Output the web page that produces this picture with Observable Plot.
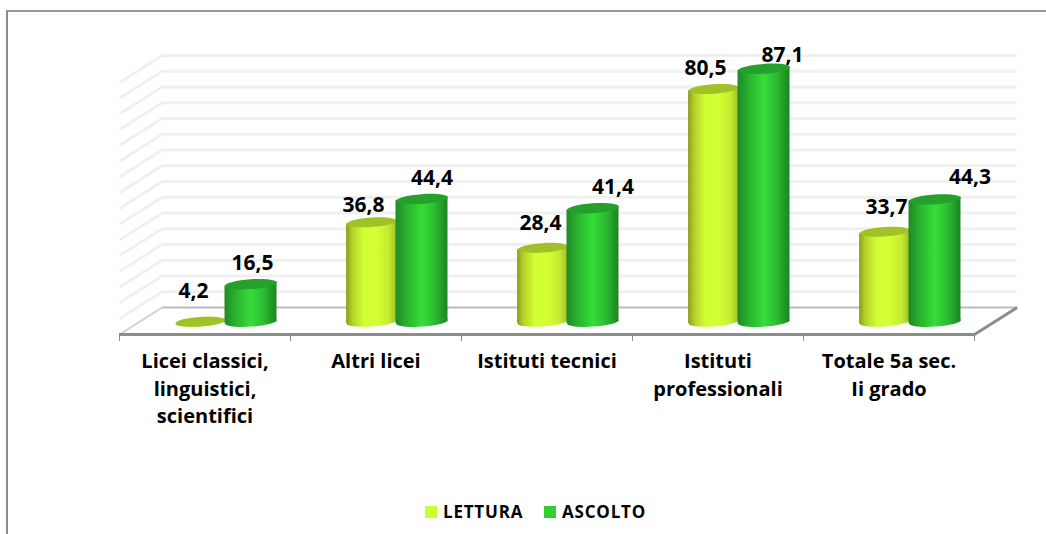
<!DOCTYPE html>
<html><head><meta charset="utf-8">
<script src="https://cdn.jsdelivr.net/npm/d3@7"></script>
<script src="https://cdn.jsdelivr.net/npm/@observablehq/plot@0.6"></script>
<style>
html,body{margin:0;padding:0;background:#fff;overflow:hidden}
#wrap{position:relative;width:1046px;height:534px;font-family:"Open Sans",sans-serif}
#frame{position:absolute;left:6px;top:10px;right:-4px;bottom:-4px;border-left:2px solid #8c8c8c;border-top:2px solid #999}
#chart{position:absolute;left:0;top:0}
.lg{position:absolute;top:503px;font-weight:700;font-size:17px;line-height:18px;letter-spacing:.8px;color:#000}
.sw{position:absolute;top:506px;width:12px;height:12px}
g[aria-label="category"] text{letter-spacing:1.5px}
g[aria-label="value"] text{letter-spacing:1.5px}
</style></head><body>
<div id="wrap"><div id="frame"></div><div id="chart"></div>
<div class="sw" style="left:425px;background:#ccff33"></div><div class="lg" style="left:443px">LETTURA</div>
<div class="sw" style="left:544px;background:#33cc33"></div><div class="lg" style="left:562px">ASCOLTO</div>
</div>
<script>
const categories = ["Licei classici,\nlinguistici,\nscientifici","Altri licei","Istituti tecnici","Istituti\nprofessionali","Totale 5a sec.\nIi grado"];
const lettura = [4.2,36.8,28.4,80.5,33.7];
const ascolto = [16.5,44.4,41.4,87.1,44.3];
const labelsL = ["4,2","36,8","28,4","80,5","33,7"];
const labelsA = ["16,5","44,4","41,4","87,1","44,3"];
const wallGrid = [14.02,19.18,24.35,29.51,34.68,39.84,45.01,50.17,55.34,60.5,65.67,70.83,76.0,81.16,86.33,91.5];
const floorBack = 8.85, depthX = 0.25, barBase = 4.2, tilt = 0.56;

// layout
const nudgeL = [[-7,-30],[-8,-17],[-2,-25],[-8,-21],[2,-24]];
const nudgeA = [[1.5,-21],[10,-21],[20,-21],[18.5,-14],[35,-22]];
const series = [
  {values:lettura,labels:labelsL,nudge:nudgeL,center:0.474,half:0.146,grad:"url(#gY)",top:"#9fc226",r:25},
  {values:ascolto,labels:labelsA,nudge:nudgeA,center:0.769,half:0.152,grad:"url(#gG)",top:"#26a02c",r:26}
];

function ellipseSymbol(){
  return {draw(c,size){
    const rx=Math.sqrt(size/Math.PI), ry=rx*0.19, t=Math.atan(1.7/25), k=0.5523;
    const P=(u,v)=>[u*Math.cos(t)+v*Math.sin(t), -u*Math.sin(t)+v*Math.cos(t)];
    const seg=(a,b,d)=>{const p=P(a[0],a[1]),q=P(b[0],b[1]),r=P(d[0],d[1]);c.bezierCurveTo(p[0],p[1],q[0],q[1],r[0],r[1]);};
    const s=P(rx,0);c.moveTo(s[0],s[1]);
    seg([rx,k*ry],[k*rx,ry],[0,ry]);
    seg([-k*rx,ry],[-rx,k*ry],[-rx,0]);
    seg([-rx,-k*ry],[-k*rx,-ry],[0,-ry]);
    seg([k*rx,-ry],[rx,-k*ry],[rx,0]);
    c.closePath();
  }};
}
function defs(){
  const d=d3.create("svg:defs");
  const mk=(id,stops)=>{const g=d.append("linearGradient").attr("id",id).attr("x1",0).attr("x2",1).attr("y1",0).attr("y2",0);
    stops.forEach(([o,c])=>g.append("stop").attr("offset",o).attr("stop-color",c));};
  mk("gY",[[0,"#8c9a1e"],[0.12,"#b4d028"],[0.35,"#d0ff33"],[0.6,"#d4ff35"],[0.85,"#c4ec2e"],[1,"#a4c026"]]);
  mk("gG",[[0,"#1d8a24"],[0.2,"#29b02e"],[0.5,"#36dd3a"],[0.75,"#2cbc31"],[1,"#1a8421"]]);
  return d.node();
}
const barMarks = series.flatMap(s=>{
  const rows=s.values.map((v,i)=>({i,v,x:i+s.center}));
  const pts=rows.flatMap(r=>[
    {k:r.i,x:r.x-s.half,y1:barBase-tilt,y2:r.v-tilt},
    {k:r.i,x:r.x+s.half,y1:barBase+tilt,y2:r.v+tilt}]);
  return [
    Plot.dot(rows,{x:"x",y:()=>barBase,r:s.r,symbol:ellipseSymbol(),fill:s.grad,stroke:"none"}),
    Plot.area(pts,{x1:"x",y1:"y1",y2:"y2",z:"k",fill:s.grad,curve:"linear"}),
    Plot.dot(rows,{x:"x",y:"v",r:s.r,symbol:ellipseSymbol(),fill:s.top,stroke:"none"})
  ];
});
const labelMarks = series.flatMap(s=>s.values.map((v,i)=>
  Plot.text([{x:i+s.center,y:v,t:s.labels[i]}],{x:"x",y:"y",text:"t",dx:s.nudge[i][0],dy:s.nudge[i][1],
    ariaLabel:"value",fontSize:21,fontWeight:700,fontFamily:"Open Sans",fill:"#000"})));

const plot = Plot.plot({
  width:1046,height:490,marginLeft:119,marginRight:72,marginTop:29,marginBottom:156,
  style:{background:"transparent",overflow:"visible"},
  x:{domain:[0,5],axis:null},
  y:{domain:[0,100],axis:null},
  marks:[
    defs,
    Plot.link(wallGrid,{x1:0,y1:d=>d-floorBack,x2:depthX,y2:d=>d,stroke:"#f0f0f0",strokeWidth:3}),
    Plot.ruleY(wallGrid,{x1:depthX,x2:5+depthX,stroke:"#f0f0f0",strokeWidth:3}),
    Plot.ruleY([floorBack],{x1:depthX,x2:5+depthX,stroke:"#bcbcbc",strokeWidth:2}),
    Plot.link([0],{x1:0,y1:0,x2:depthX,y2:floorBack,stroke:"#d0d0d0",strokeWidth:2}),
    Plot.link([0],{x1:5,y1:0,x2:5+depthX,y2:floorBack,stroke:"#8c8c8c",strokeWidth:3}),
    Plot.axisX({ticks:[0,1,2,3,4,5],tickFormat:()=>"",tickSize:7,stroke:"#8c8c8c",label:null}),
    Plot.ruleY([0],{stroke:"#8c8c8c",strokeWidth:3}),
    ...barMarks,
    ...labelMarks,
    Plot.text(categories,{x:(d,i)=>i+0.5,y:()=>0,text:d=>d,dy:14,lineAnchor:"top",lineHeight:1.375,
      ariaLabel:"category",fontSize:20,fontWeight:700,fontFamily:"Open Sans",fill:"#000"})
  ]
});
document.getElementById("chart").append(plot);
</script></body></html>
